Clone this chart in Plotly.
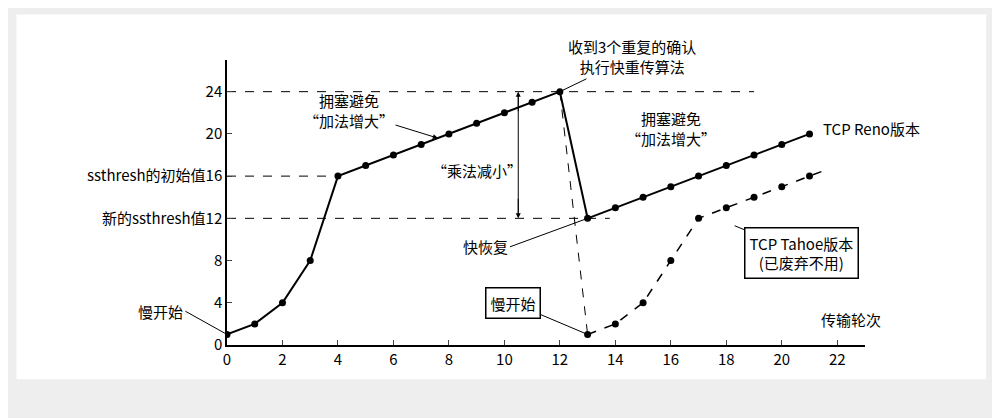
import plotly.graph_objects as go

reno_x = list(range(0, 22))
reno_y = [1, 2, 4, 8, 16, 17, 18, 19, 20, 21, 22, 23, 24,
          12, 13, 14, 15, 16, 17, 18, 19, 20]
tahoe_x = [13, 14, 15, 16, 17, 18, 19, 20, 21]
tahoe_y = [1, 2, 4, 8, 12, 13, 14, 15, 16]
x_ticks = list(range(0, 23, 2))
y_ticks = [0, 4, 8, 12, 16, 20, 24]
y_labels = ["0", "4", "8", "新的ssthresh值12", "ssthresh的初始值16", "20", "24"]

FONT = "Noto Sans CJK SC"
fig = go.Figure()

# 参考虚线
for xs, ys in [([0, 19], [24, 24]), ([0, 4], [16, 16]), ([0, 13.8], [12, 12])]:
    fig.add_trace(go.Scatter(x=xs, y=ys, mode="lines", showlegend=False,
                             line=dict(color="black", width=1, dash="dash")))

# Reno
fig.add_trace(go.Scatter(x=reno_x[:13], y=reno_y[:13], mode="lines+markers", showlegend=False,
                         line=dict(color="black", width=2), marker=dict(size=7, color="black")))
fig.add_trace(go.Scatter(x=[12, 13], y=[24, 12], mode="lines", showlegend=False,
                         line=dict(color="black", width=2)))
fig.add_trace(go.Scatter(x=reno_x[13:], y=reno_y[13:], mode="lines+markers", showlegend=False,
                         line=dict(color="black", width=2), marker=dict(size=7, color="black")))
# Tahoe
fig.add_trace(go.Scatter(x=[12, 13], y=[24, 1], mode="lines", showlegend=False,
                         line=dict(color="black", width=1, dash="dash")))
fig.add_trace(go.Scatter(x=tahoe_x + [21.7], y=tahoe_y + [16.7], mode="lines", showlegend=False,
                         line=dict(color="black", width=1.5, dash="dash")))
fig.add_trace(go.Scatter(x=tahoe_x, y=tahoe_y, mode="markers", showlegend=False,
                         marker=dict(size=7, color="black")))
# 乘法减小 双箭头
fig.add_trace(go.Scatter(x=[10.5, 10.5], y=[23.8, 12.2], mode="lines", showlegend=False,
                         line=dict(color="black", width=1)))

f = dict(family=FONT, size=15, color="black")
ann = [
    dict(x=10.5, y=24, ax=10.5, ay=22, axref="x", ayref="y", text="", showarrow=True, arrowhead=2),
    dict(x=10.5, y=12, ax=10.5, ay=14, axref="x", ayref="y", text="", showarrow=True, arrowhead=2),
    dict(x=0, y=1, ax=-1.5, ay=3.2, axref="x", ayref="y", text="慢开始", showarrow=True, arrowhead=0, xanchor="right"),
    dict(x=7.6, y=19.6, ax=4.4, ay=22.2, axref="x", ayref="y", text="拥塞避免<br>“加法增大”", showarrow=True, arrowhead=2),
    dict(x=9, y=16.5, text="“乘法减小”", showarrow=False),
    dict(x=12, y=24, ax=14.6, ay=27.3, axref="x", ayref="y", text="收到3个重复的确认<br>执行快重传算法", showarrow=True, arrowhead=0),
    dict(x=16, y=20.5, text="拥塞避免<br>“加法增大”", showarrow=False),
    dict(x=21.4, y=20.5, text="TCP Reno版本", showarrow=False, xanchor="left"),
    dict(x=13, y=12, ax=10.2, ay=9.3, axref="x", ayref="y", text="快恢复", showarrow=True, arrowhead=0, xanchor="right"),
    dict(x=13, y=1, ax=10.3, ay=4, axref="x", ayref="y", text="慢开始", showarrow=True, arrowhead=0,
         bordercolor="black", borderwidth=1.5, borderpad=4, bgcolor="white"),
    dict(x=18.3, y=11.3, ax=20.7, ay=8.7, axref="x", ayref="y", text="TCP Tahoe版本<br>(已废弃不用)", showarrow=True, arrowhead=0,
         bordercolor="black", borderwidth=1.5, borderpad=4, bgcolor="white"),
    dict(x=22.5, y=2.4, text="传输轮次", showarrow=False),
    dict(x=0, y=27.5, text="拥塞窗口cwnd", showarrow=False),
]
for a in ann:
    a.setdefault("font", f)
    a.setdefault("arrowwidth", 1)
    a.setdefault("arrowcolor", "black")
fig.update_layout(annotations=ann)

fig.add_shape(type="rect", xref="paper", yref="paper", x0=-0.33, x1=1.19, y0=-0.12, y1=1.16,
              fillcolor="white", line=dict(width=0), layer="below")

fig.update_layout(
    width=1000, height=418, paper_bgcolor="#eeeeee", plot_bgcolor="rgba(0,0,0,0)",
    margin=dict(l=219, r=143, t=52, b=81),
    font=dict(family=FONT, size=15, color="black"),
    xaxis=dict(range=[0, 23], tickvals=x_ticks, showgrid=False, zeroline=False,
               showline=True, linecolor="black", linewidth=1.5, ticks="inside", ticklen=5),
    yaxis=dict(range=[0, 27], tickvals=y_ticks, ticktext=y_labels, showgrid=False, zeroline=False,
               showline=True, linecolor="black", linewidth=1.5, ticks="inside", ticklen=5),
)
fig.write_html("out.html")
